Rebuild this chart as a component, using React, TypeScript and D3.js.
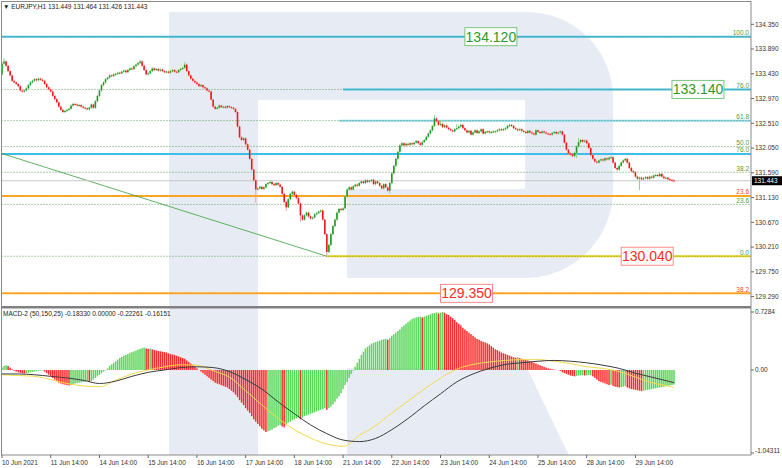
import * as d3 from 'd3';
import React, { FC, useEffect, useRef } from 'react';

const width = 782;
const height = 468;

// time axis: one label every 24 hourly bars
const dateLabels = [
	'10 Jun 2021', '11 Jun 14:00', '14 Jun 14:00', '15 Jun 14:00', '16 Jun 14:00', '17 Jun 14:00', '18 Jun 14:00',
	'21 Jun 14:00', '22 Jun 14:00', '23 Jun 14:00', '24 Jun 14:00', '25 Jun 14:00', '28 Jun 14:00', '29 Jun 14:00',
];
const barsPerLabel = 24;

const priceTicks = [134.35, 133.89, 133.43, 132.97, 132.51, 132.05, 131.59, 131.13, 130.67, 130.21, 129.75, 129.29];

// EURJPY H1 closes
const firstOpen = 133.42;
const closes = [
	133.62, 133.66, 133.58, 133.48, 133.4, 133.3, 133.27, 133.24, 133.2, 133.12,
	133.1, 133.12, 133.16, 133.22, 133.27, 133.3, 133.33, 133.31, 133.34, 133.32,
	133.3, 133.24, 133.18, 133.14, 133.1, 133.02, 132.96, 132.9, 132.82, 132.76,
	132.72, 132.74, 132.76, 132.78, 132.84, 132.87, 132.86, 132.84, 132.85, 132.82,
	132.8, 132.79, 132.77, 132.8, 132.86, 132.8, 132.92, 133.02, 133.12, 133.22,
	133.27, 133.33, 133.36, 133.4, 133.39, 133.42, 133.43, 133.45, 133.44, 133.47,
	133.49, 133.46, 133.5, 133.53, 133.52, 133.57, 133.6, 133.63, 133.66, 133.58,
	133.5, 133.42, 133.44, 133.48, 133.53, 133.5, 133.52, 133.49, 133.51, 133.48,
	133.46, 133.47, 133.45, 133.48, 133.5, 133.47, 133.46, 133.5, 133.52, 133.54,
	133.6, 133.48, 133.4, 133.34, 133.3, 133.27, 133.24, 133.2, 133.22, 133.18,
	133.16, 133.12, 133.1, 132.95, 132.82, 132.78, 132.8, 132.84, 132.81, 132.82,
	132.8, 132.83, 132.81, 132.8, 132.78, 132.72, 132.45, 132.25, 132.2, 132.23,
	132.12, 132.02, 131.85, 131.65, 131.45, 131.28, 131.3, 131.33, 131.29, 131.32,
	131.38, 131.4, 131.42, 131.38, 131.36, 131.4, 131.37, 131.33, 131.2, 131.05,
	130.95, 131.1, 131.2, 131.24, 131.18, 131.12, 131.02, 130.8, 130.72, 130.8,
	130.85, 130.78, 130.74, 130.76, 130.82, 130.84, 130.87, 130.89, 130.72, 130.45,
	130.12, 130.25, 130.45, 130.6, 130.72, 130.85, 130.92, 130.9, 130.93, 131.15,
	131.28, 131.32, 131.28, 131.34, 131.37, 131.35, 131.4, 131.43, 131.4, 131.45,
	131.42, 131.44, 131.46, 131.38, 131.43, 131.4, 131.35, 131.3, 131.38, 131.32,
	131.26, 131.4, 131.58, 131.72, 131.85, 131.98, 132.1, 132.14, 132.1, 132.13,
	132.11, 132.14, 132.12, 132.15, 132.18, 132.14, 132.11, 132.16, 132.2, 132.26,
	132.32, 132.38, 132.46, 132.6, 132.55, 132.48, 132.5, 132.44, 132.47, 132.43,
	132.4, 132.38, 132.36, 132.4, 132.42, 132.45, 132.48, 132.42, 132.38, 132.34,
	132.37, 132.3, 132.34, 132.38, 132.33, 132.36, 132.4, 132.32, 132.35, 132.36,
	132.34, 132.35, 132.36, 132.36, 132.38, 132.4, 132.39, 132.4, 132.42, 132.46,
	132.48, 132.46, 132.42, 132.4, 132.38, 132.4, 132.37, 132.35, 132.33, 132.37,
	132.34, 132.32, 132.3, 132.38, 132.35, 132.33, 132.36, 132.34, 132.32, 132.31,
	132.3, 132.33, 132.35, 132.32, 132.34, 132.36, 132.3, 132.15, 132.02, 131.95,
	131.93, 131.9, 131.96, 132.08, 132.16, 132.2, 132.17, 132.19, 132.14, 132.05,
	131.92, 131.85, 131.8, 131.78, 131.82, 131.84, 131.82, 131.86, 131.84, 131.87,
	131.88, 131.78, 131.68, 131.65, 131.72, 131.78, 131.82, 131.85, 131.78, 131.68,
	131.62, 131.6, 131.52, 131.48, 131.5, 131.47, 131.49, 131.51, 131.48, 131.52,
	131.5, 131.54, 131.55, 131.53, 131.57, 131.52, 131.49, 131.5, 131.47, 131.46,
	131.449, 131.443,
];
// notable shadows [bar, price]
const wickHighs = [[1, 133.72], [68, 133.69], [90, 133.65], [213, 132.66], [216, 132.57], [224, 132.5], [284, 132.24]];
const wickLows = [[125, 131.03], [140, 130.88], [147, 130.68], [160, 130.04], [191, 131.2], [283, 131.87], [314, 131.27]];

// MACD-2 (50,150,25)
const macdHist = [
	0.03, 0.05, 0.06, 0.05, 0.03, 0.01, -0.01, -0.02, -0.03, -0.035,
	-0.04, -0.045, -0.04, -0.035, -0.03, -0.025, -0.02, -0.015, -0.01, -0.008,
	-0.005, -0.02, -0.04, -0.06, -0.08, -0.1, -0.12, -0.14, -0.16, -0.17,
	-0.18, -0.185, -0.19, -0.195, -0.19, -0.18, -0.17, -0.165, -0.16, -0.155,
	-0.15, -0.145, -0.14, -0.15, -0.14, -0.12, -0.1, -0.08, -0.06, -0.04,
	-0.02, -0.005, 0.02, 0.05, 0.07, 0.09, 0.11, 0.13, 0.15, 0.165,
	0.18, 0.19, 0.2, 0.215, 0.225, 0.235, 0.245, 0.255, 0.265, 0.275,
	0.28, 0.27, 0.265, 0.27, 0.26, 0.25, 0.245, 0.24, 0.235, 0.23,
	0.225, 0.22, 0.21, 0.2, 0.195, 0.19, 0.18, 0.17, 0.16, 0.15,
	0.14, 0.12, 0.1, 0.08, 0.06, 0.04, 0.02, 0.0, -0.02, -0.04,
	-0.06, -0.08, -0.1, -0.12, -0.14, -0.16, -0.17, -0.18, -0.19, -0.2,
	-0.21, -0.22, -0.24, -0.26, -0.28, -0.31, -0.34, -0.38, -0.41, -0.44,
	-0.48, -0.51, -0.54, -0.58, -0.62, -0.65, -0.68, -0.71, -0.74, -0.76,
	-0.78, -0.77, -0.76, -0.75, -0.73, -0.72, -0.7, -0.69, -0.71, -0.72,
	-0.68, -0.66, -0.65, -0.63, -0.62, -0.61, -0.6, -0.62, -0.6, -0.58,
	-0.57, -0.56, -0.55, -0.54, -0.53, -0.52, -0.51, -0.5, -0.49, -0.48,
	-0.5, -0.48, -0.46, -0.43, -0.4, -0.36, -0.33, -0.29, -0.24, -0.19,
	-0.15, -0.1, -0.05, -0.01, 0.04, 0.09, 0.14, 0.19, 0.23, 0.27,
	0.29, 0.31, 0.33, 0.34, 0.35, 0.36, 0.37, 0.38, 0.385, 0.39,
	0.38, 0.4, 0.43, 0.45, 0.47, 0.49, 0.51, 0.54, 0.56, 0.58,
	0.6, 0.62, 0.64, 0.65, 0.66, 0.665, 0.67, 0.66, 0.67, 0.68,
	0.69, 0.7, 0.71, 0.715, 0.72, 0.71, 0.72, 0.728, 0.72, 0.7,
	0.69, 0.67, 0.65, 0.63, 0.6, 0.58, 0.56, 0.53, 0.51, 0.49,
	0.47, 0.45, 0.43, 0.41, 0.39, 0.38, 0.365, 0.355, 0.345, 0.335,
	0.32, 0.3, 0.28, 0.26, 0.25, 0.235, 0.22, 0.21, 0.2, 0.19,
	0.18, 0.17, 0.16, 0.155, 0.16, 0.15, 0.14, 0.135, 0.13, 0.12,
	0.11, 0.1, 0.09, 0.08, 0.07, 0.06, 0.05, 0.04, 0.03, 0.02,
	0.015, 0.01, 0.005, 0.002, 0.0, -0.01, -0.03, -0.04, -0.05, -0.06,
	-0.07, -0.075, -0.08, -0.075, -0.07, -0.068, -0.066, -0.07, -0.068, -0.066,
	-0.065, -0.08, -0.1, -0.12, -0.14, -0.15, -0.16, -0.17, -0.18, -0.19,
	-0.185, -0.2, -0.21, -0.215, -0.22, -0.215, -0.21, -0.205, -0.22, -0.23,
	-0.24, -0.245, -0.25, -0.255, -0.26, -0.265, -0.26, -0.255, -0.25, -0.245,
	-0.24, -0.235, -0.23, -0.225, -0.22, -0.215, -0.21, -0.205, -0.2, -0.195,
	-0.19, -0.183,
];
// the two smooth lines, read every 8 bars (last point = last bar)
const lineStep = 8;
const macdBlack = [
	-0.05, -0.05, -0.06, -0.08, -0.1, -0.13, -0.17, -0.14, -0.08, -0.03, 0.0, 0.03, 0.04, 0.03, -0.02,
	-0.12, -0.24, -0.4, -0.55, -0.69, -0.8, -0.88, -0.9, -0.86, -0.75, -0.61, -0.45, -0.3, -0.15, -0.05,
	0.02, 0.07, 0.09, 0.11, 0.12, 0.11, 0.09, 0.06, 0.02, -0.04, -0.09, -0.14, -0.16,
];
const macdYellow = [
	-0.06, -0.07, -0.08, -0.12, -0.17, -0.2, -0.21, -0.13, -0.05, 0.0, 0.04, 0.065, 0.06, -0.01, -0.09,
	-0.26, -0.44, -0.61, -0.75, -0.855, -0.93, -0.96, -0.82, -0.7, -0.54, -0.39, -0.24, -0.1, 0.01, 0.07,
	0.1, 0.12, 0.13, 0.13, 0.11, 0.08, 0.04, 0.02, -0.02, -0.09, -0.16, -0.2, -0.22,
];

// fibonacci grid (green dotted)
const fiboPrices = [134.12, 133.14, 132.56, 132.08, 131.6, 131.003, 130.04];
const fiboLabels = ['100.0', '76.0', '61.8', '50.0', '38.2', '23.6', '0.0'];
// solid levels: price, first bar, label
const blueLevels = [134.12, 133.14, 132.56, 131.94];
const blueStart = [-2, 168, 166, -2];
const orangeLevels = [131.16, 129.35];
const orangeLabels = ['23.6', '38.2'];
const zeroStart = 160;
const trendLine = [[-1, 131.96], [160, 130.04]];
const lastPrice = 131.443;

// price boxes: value, bar under left edge
const greenBoxes = [[134.12, 228], [133.14, 330]];
const redBoxes = [[130.04, 305], [129.35, 216]];

const FONT = '"Liberation Sans", Arial, sans-serif';

const ChartD3: FC = () => {
	const ref = useRef<HTMLDivElement>(null);

	useEffect(() => {
		const container = ref.current;
		if (!container) return;
		container.innerHTML = '';

		const n = closes.length;
		const x = d3.scaleLinear().domain([0, n - 1]).range([2, 674]);
		const y = d3.scaleLinear().domain([129.29, 134.35]).range([296.6, 24.3]);
		const ym = d3.scaleLinear().domain([-1.04311, 0.7284]).range([453, 312]);
		const left = 1.5, right = 751, mainTop = 1.5, mainBottom = 306, macdTop = 308.5, bottom = 455;

		const svg = d3
			.select(container)
			.append('svg')
			.attr('width', width)
			.attr('height', height)
			.style('position', 'fixed')
			.style('left', 0)
			.style('top', 0)
			.style('font-family', FONT);

		svg.append('rect').attr('width', width).attr('height', height).attr('fill', '#fff');

		const defs = svg.append('defs');
		defs.append('clipPath').attr('id', 'plot').append('rect').attr('x', left).attr('y', mainTop).attr('width', right - left).attr('height', bottom - mainTop);
		defs.append('clipPath').attr('id', 'main').append('rect').attr('x', left).attr('y', mainTop).attr('width', right - left).attr('height', mainBottom - mainTop);
		defs.append('clipPath').attr('id', 'macd').append('rect').attr('x', left).attr('y', macdTop).attr('width', right - left).attr('height', bottom - macdTop);

		// watermark "R"
		svg.append('path')
			.attr('clip-path', 'url(#plot)')
			.attr('fill', '#e7ecf4')
			.attr('d', 'M169,12 H527 A86,86 0 0 1 613,98 V190 A88,88 0 0 1 527,278 H347 V189 H525 V100 H258 V468 H169 Z M347,368 H527 L575,468 H347 Z');

		const main = svg.append('g').attr('clip-path', 'url(#main)');

		// solid levels
		blueLevels.forEach((p, i) => {
			main.append('line')
				.attr('x1', x(blueStart[i])).attr('x2', right)
				.attr('y1', y(p)).attr('y2', y(p))
				.attr('stroke', i === 2 ? '#8fd9f4' : '#3fbde9')
				.attr('stroke-width', 2);
		});
		orangeLevels.forEach(p => {
			main.append('line').attr('x1', left).attr('x2', right).attr('y1', y(p)).attr('y2', y(p))
				.attr('stroke', '#ffb020').attr('stroke-width', 2);
		});
		main.append('line').attr('x1', x(zeroStart)).attr('x2', right).attr('y1', y(130.04)).attr('y2', y(130.04))
			.attr('stroke', '#f2d21a').attr('stroke-width', 2);

		fiboPrices.forEach(p => {
			main.append('line').attr('x1', left).attr('x2', right).attr('y1', y(p)).attr('y2', y(p))
				.attr('stroke', '#5a9e5a').attr('stroke-width', 1).attr('stroke-dasharray', '1,2');
		});
		orangeLevels.forEach(p => {
			main.append('line').attr('x1', left).attr('x2', right).attr('y1', y(p)).attr('y2', y(p))
				.attr('stroke', '#e05050').attr('stroke-width', 0.6).attr('stroke-dasharray', '1,2');
		});

		main.append('line')
			.attr('x1', x(trendLine[0][0])).attr('y1', y(trendLine[0][1]))
			.attr('x2', x(trendLine[1][0])).attr('y2', y(trendLine[1][1]))
			.attr('stroke', '#3a9e3a').attr('stroke-width', 0.8);

		main.append('line').attr('x1', left).attr('x2', right).attr('y1', y(lastPrice)).attr('y2', y(lastPrice))
			.attr('stroke', '#c8c8c8').attr('stroke-width', 1);

		// candles
		const hiMap = new Map(wickHighs.map(d => [d[0], d[1]] as [number, number]));
		const loMap = new Map(wickLows.map(d => [d[0], d[1]] as [number, number]));
		const bars = closes.map((c, i) => {
			const o = i === 0 ? firstOpen : closes[i - 1];
			return {
				i,
				o,
				c,
				h: hiMap.get(i) ?? Math.max(o, c) + 0.02,
				l: loMap.get(i) ?? Math.min(o, c) - 0.02,
				up: c >= o,
			};
		});
		main.append('g').selectAll('line').data(bars).join('line')
			.attr('x1', d => x(d.i)).attr('x2', d => x(d.i))
			.attr('y1', d => y(d.h)).attr('y2', d => y(d.l))
			.attr('stroke', d => (d.up ? '#8fd08f' : '#f4a0a0'))
			.attr('stroke-width', 1);
		main.append('g').selectAll('rect').data(bars).join('rect')
			.attr('x', d => x(d.i) - 0.8)
			.attr('width', 1.6)
			.attr('y', d => y(Math.max(d.o, d.c)))
			.attr('height', d => Math.max(1, Math.abs(y(d.o) - y(d.c))))
			.attr('fill', d => (d.up ? '#229922' : '#f01818'));

		// level labels on the right
		const labelG = svg.append('g').attr('font-size', 6.5).attr('text-anchor', 'end');
		fiboPrices.forEach((p, i) => {
			labelG.append('text').attr('x', 749).attr('y', y(p) - 1.5).attr('fill', '#4a9e4a').text(fiboLabels[i]);
		});
		labelG.append('text').attr('x', 749).attr('y', y(blueLevels[3]) - 1.5).attr('fill', '#4a9e4a').text('76.0');
		orangeLevels.forEach((p, i) => {
			labelG.append('text').attr('x', 749).attr('y', y(p) - 1.5).attr('fill', '#ff3b3b').text(orangeLabels[i]);
		});

		// price boxes
		const box = (p: number, bar: number, fg: string, border: string) => {
			const bx = x(bar);
			const cy = y(p);
			svg.append('rect').attr('x', bx).attr('y', cy - 9).attr('width', 52).attr('height', 18)
				.attr('fill', '#fff').attr('stroke', border).attr('stroke-width', 1);
			svg.append('text').attr('x', bx + 26).attr('y', cy).attr('dy', '0.36em')
				.attr('text-anchor', 'middle').attr('font-size', 14).attr('fill', fg).text(p.toFixed(3));
		};
		greenBoxes.forEach(b => box(b[0], b[1], '#2a9a2a', '#7cc47c'));
		redBoxes.forEach(b => box(b[0], b[1], '#ff2a2a', '#ff8a8a'));

		// MACD
		const macd = svg.append('g').attr('clip-path', 'url(#macd)');
		macd.append('g').selectAll('rect').data(macdHist).join('rect')
			.attr('x', (d, i) => x(i) - 0.75)
			.attr('width', 1.5)
			.attr('y', d => Math.min(ym(d), ym(0)))
			.attr('height', d => Math.abs(ym(d) - ym(0)))
			.attr('fill', (d, i) => (i === 0 || d >= macdHist[i - 1] ? '#5ad65a' : '#ff2b2b'));

		const lineBar = (i: number, arr: number[]) => (i === arr.length - 1 ? n - 1 : i * lineStep);
		const mkLine = (arr: number[]) =>
			d3.line<number>()
				.x((d, i) => x(lineBar(i, arr)))
				.y(d => ym(d))
				.curve(d3.curveMonotoneX)(arr);
		macd.append('path').attr('d', mkLine(macdYellow)).attr('fill', 'none').attr('stroke', '#f3d94a').attr('stroke-width', 1);
		macd.append('path').attr('d', mkLine(macdBlack)).attr('fill', 'none').attr('stroke', '#3c3c3c').attr('stroke-width', 1);

		// frame
		svg.append('rect').attr('x', left).attr('y', mainTop).attr('width', right - left).attr('height', bottom - mainTop)
			.attr('fill', 'none').attr('stroke', '#8a8a8a').attr('stroke-width', 1);
		svg.append('rect').attr('x', left).attr('y', mainBottom).attr('width', right - left).attr('height', 2.5).attr('fill', '#808080');

		// price axis
		const axisG = svg.append('g').attr('font-size', 6.5).attr('fill', '#333');
		priceTicks.forEach(p => {
			axisG.append('line').attr('x1', right).attr('x2', right + 3).attr('y1', y(p)).attr('y2', y(p)).attr('stroke', '#666');
			axisG.append('text').attr('x', right + 4).attr('y', y(p)).attr('dy', '0.35em').text(p.toFixed(3));
		});
		axisG.append('rect').attr('x', right + 1).attr('y', y(lastPrice) - 4.5).attr('width', 30).attr('height', 9).attr('fill', '#000');
		axisG.append('text').attr('x', right + 3).attr('y', y(lastPrice)).attr('dy', '0.35em').attr('fill', '#fff').text(lastPrice.toFixed(3));

		// macd axis
		[0.7284, 0, -1.04311].forEach((v, i) => {
			axisG.append('line').attr('x1', right).attr('x2', right + 3).attr('y1', ym(v)).attr('y2', ym(v)).attr('stroke', '#666');
			axisG.append('text').attr('x', right + 4).attr('y', Math.min(ym(v), 451)).attr('dy', '0.35em')
				.text(i === 0 ? '0.7284' : i === 1 ? '0.00' : '-1.04311');
		});

		// time axis
		dateLabels.forEach((lbl, k) => {
			const tx = x(k * barsPerLabel);
			axisG.append('line').attr('x1', tx).attr('x2', tx).attr('y1', bottom).attr('y2', bottom + 3).attr('stroke', '#666');
			axisG.append('text').attr('x', tx).attr('y', 465).text(lbl);
		});

		// titles
		svg.append('text').attr('x', 3).attr('y', 8.5).attr('font-size', 6.5).attr('fill', '#222')
			.text('\u25BC EURJPY,H1  131.449 131.464 131.426 131.443');
		svg.append('text').attr('x', 3).attr('y', 316).attr('font-size', 6.5).attr('fill', '#222')
			.text('MACD-2 (50,150,25) -0.18330 0.00000 -0.22261 -0.16151');
	}, []);

	return <div ref={ref}></div>;
};

export default function App() {
	return <ChartD3 />;
}
